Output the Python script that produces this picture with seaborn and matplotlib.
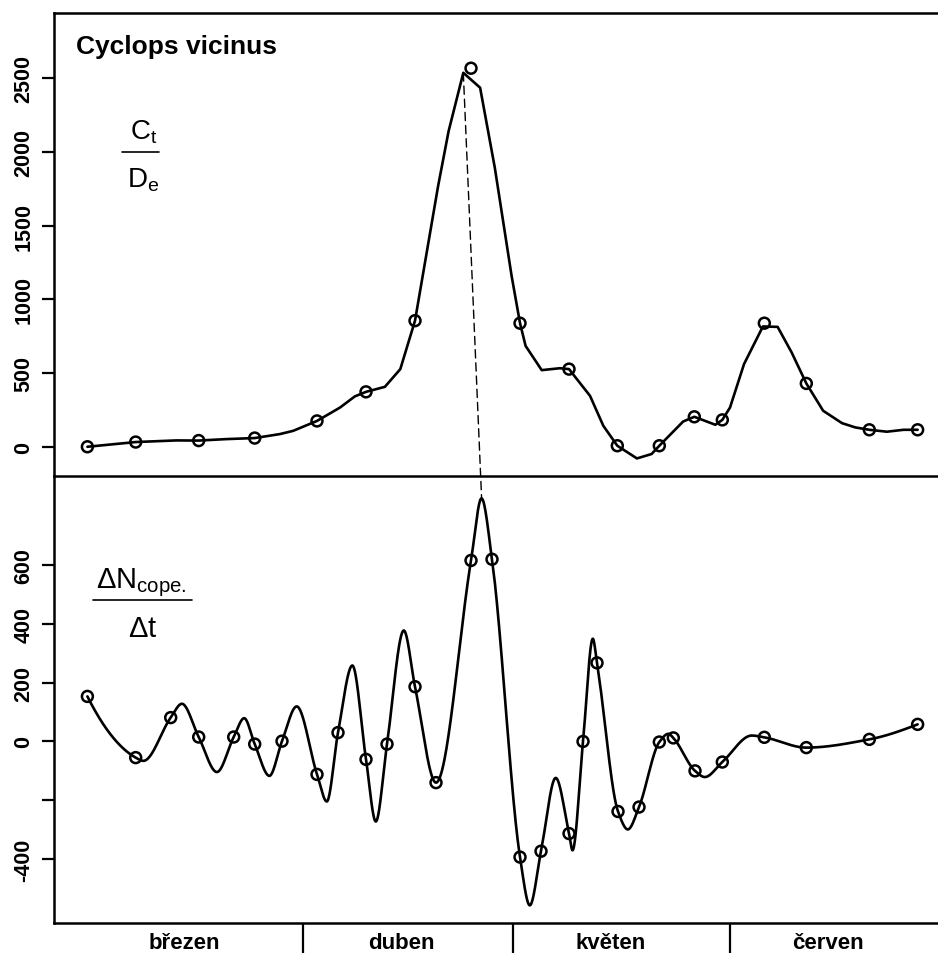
import numpy as np
import pandas as pd
import matplotlib
matplotlib.use("Agg")
import matplotlib.pyplot as plt
from matplotlib.lines import Line2D
from matplotlib.patches import ConnectionPatch
import seaborn as sns

# Days are counted from 1 March (day 0)
month_names = ["březen", "duben", "květen", "červen"]
month_starts = [31, 61, 92]            # 1 April, 1 May, 1 June
month_label_days = [14, 45, 75, 106]   # the 15th of each month

# Upper panel: sampled C_t / D_e values and the smoothed trace
density_days = [0.2, 7.1, 16.1, 24.1, 33.0, 40.0, 47.0, 55.0, 62.0, 69.0,
                75.9, 81.9, 86.9, 90.9, 96.9, 102.9, 111.9, 118.8]
density_vals = [2, 34, 44, 61, 177, 374, 856, 2566, 839, 528,
                9, 9, 205, 184, 839, 431, 117, 117]

trace_days = [0.2, 7.1, 12.9, 16.1, 20.1, 24.1, 27.7, 29.6, 33.0, 36.3,
              38.4, 40.0, 42.7, 44.9, 47.0, 50.3, 51.8, 53.9, 56.3, 58.4,
              60.8, 62.0, 62.8, 65.1, 67.7, 69.0, 72.0, 73.9, 75.9, 78.7,
              80.8, 81.9, 85.3, 86.9, 89.9, 90.9, 92.0, 94.0, 96.7, 98.8,
              100.8, 102.9, 105.3, 108.0, 109.9, 111.9, 114.4, 116.8, 118.8]
trace_vals = [2, 34, 45, 44, 54, 61, 88, 110, 177, 268,
              343, 374, 408, 528, 856, 1768, 2140, 2535, 2434, 1892,
              1159, 839, 685, 521, 534, 528, 347, 144, 9, -77,
              -47, 9, 173, 205, 151, 184, 268, 562, 817, 814,
              641, 431, 246, 162, 133, 117, 104, 117, 117]

# Lower panel: rate of change of copepodites (circles)
rate_days = [0.2, 7.1, 12.1, 16.1, 21.1, 24.1, 28.0, 33.0, 36.0, 40.0,
             43.0, 47.0, 50.0, 55.0, 58.0, 62.0, 65.0, 69.0, 71.0, 73.0,
             76.0, 79.0, 81.9, 83.9, 87.0, 90.9, 96.9, 102.9, 111.9, 118.8]
rate_vals = [153, -55, 81, 15, 15, -9, 1, -112, 30, -61,
             -9, 186, -140, 615, 619, -393, -373, -313, 0, 267,
             -238, -223, -2, 12, -100, -70, 14, -21, 7, 58]

# Knots of the smooth rate curve (its turning points and the sampled values)
curve_days = [0.2, 7.1, 8.2, 12.1, 13.7, 16.1, 18.7, 21.1, 22.6, 24.1,
              26.2, 28.0, 30.1, 33.0, 34.4, 36.0, 38.05, 40.0, 41.4, 43.0,
              45.4, 47.0, 50.0, 55.0, 56.5, 58.0, 62.0, 63.4, 65.0, 67.1,
              69.0, 69.5, 71.0, 72.4, 73.0, 76.0, 77.4, 79.0, 81.9, 83.2,
              83.9, 87.0, 88.4, 90.9, 95.1, 96.9, 102.9, 111.9, 118.8]
curve_vals = [153, -55, -66, 81, 128, 15, -104, 15, 79, -9,
              -117, 1, 119, -112, -204, 30, 258, -61, -272, -9,
              377, 186, -140, 615, 826, 619, -393, -557, -373, -124,
              -313, -370, 0, 349, 267, -238, -299, -223, -2, 26,
              12, -100, -121, -70, 20, 14, -21, 7, 58]

top_ticks = [0, 500, 1000, 1500, 2000, 2500]
bottom_ticks = [-400, -200, 0, 200, 400, 600]
bottom_tick_labels = ["-400", "", "0", "200", "400", "600"]


def pchip(x, y, xs):
    """Shape-preserving piecewise cubic Hermite curve through (x, y)."""
    x = np.asarray(x, float)
    y = np.asarray(y, float)
    h = np.diff(x)
    d = np.diff(y) / h
    n = len(x)
    m = np.zeros(n)
    for k in range(1, n - 1):
        if d[k - 1] * d[k] > 0:
            w1 = 2 * h[k] + h[k - 1]
            w2 = h[k] + 2 * h[k - 1]
            m[k] = (w1 + w2) / (w1 / d[k - 1] + w2 / d[k])

    def end(h0, h1, d0, d1):
        s = ((2 * h0 + h1) * d0 - h0 * d1) / (h0 + h1)
        if np.sign(s) != np.sign(d0):
            return 0.0
        if np.sign(d0) != np.sign(d1) and abs(s) > abs(3 * d0):
            return 3 * d0
        return s

    m[0] = end(h[0], h[1], d[0], d[1])
    m[-1] = end(h[-1], h[-2], d[-1], d[-2])
    i = np.clip(np.searchsorted(x, xs) - 1, 0, n - 2)
    t = (xs - x[i]) / h[i]
    h00 = 2 * t**3 - 3 * t**2 + 1
    h10 = t**3 - 2 * t**2 + t
    h01 = -2 * t**3 + 3 * t**2
    h11 = t**3 - t**2
    return h00 * y[i] + h10 * h[i] * m[i] + h01 * y[i + 1] + h11 * h[i] * m[i + 1]


sns.set_theme(style="ticks", rc={
    "axes.edgecolor": "black",
    "xtick.color": "black",
    "ytick.color": "black",
    "text.color": "black",
    "axes.linewidth": 1.8,
})
plt.rcParams["font.family"] = ["Liberation Sans", "DejaVu Sans"]
plt.rcParams["mathtext.fontset"] = "custom"
plt.rcParams["mathtext.rm"] = "Liberation Sans"
plt.rcParams["mathtext.it"] = "Liberation Sans:italic"
plt.rcParams["mathtext.bf"] = "Liberation Sans:bold"

W, H = 938, 954
fig = plt.figure(figsize=(W / 100, H / 100), dpi=100)


def rect(left, top, right, bottom):
    return [left / W, 1 - bottom / H, (right - left) / W, (bottom - top) / H]


ax1 = fig.add_axes(rect(54, 14, 945, 477))
ax2 = fig.add_axes(rect(54, 477, 945, 924))
ax2.patch.set_visible(False)
ax1.set_zorder(2)
ax1.patch.set_visible(False)

xlim = (-4.571, 122.71)
lw = 1.9

density = pd.DataFrame({"day": density_days, "value": density_vals})
trace = pd.DataFrame({"day": trace_days, "value": trace_vals})
rate = pd.DataFrame({"day": rate_days, "value": rate_vals})
fine_days = np.linspace(curve_days[0], curve_days[-1], 3000)
curve = pd.DataFrame({"day": fine_days,
                      "value": pchip(curve_days, curve_vals, fine_days)})

# ---- upper panel
sns.lineplot(data=trace, x="day", y="value", ax=ax1, color="black",
             linewidth=lw, estimator=None, sort=False)
sns.scatterplot(data=density, x="day", y="value", ax=ax1, marker="o", s=62,
                facecolor="none", edgecolor="black", linewidth=1.8, zorder=3)
ax1.set_xlim(*xlim)
ax1.set_ylim(-196, 2940)
ax1.set_xticks([])
ax1.set_yticks(top_ticks, [str(t) for t in top_ticks], rotation=90,
               va="center", fontweight="bold", fontsize=15.5)
ax1.tick_params(axis="y", length=8.6, width=1.6, pad=5.4)
ax1.spines["right"].set_visible(False)
ax1.set_xlabel("")
ax1.set_ylabel("")

ax1.text(0.0247, 0.9136, "Cyclops vicinus", transform=ax1.transAxes,
         fontsize=19, fontweight="bold", ha="left", va="baseline")
ax1.text(0.1005, 0.7279, r"$\mathregular{C_t}$", transform=ax1.transAxes,
         fontsize=20, ha="center", va="baseline")
ax1.text(0.0999, 0.6242, r"$\mathregular{D_e}$", transform=ax1.transAxes,
         fontsize=20, ha="center", va="baseline")
ax1.add_line(Line2D([0.0763, 0.1179], [0.6991, 0.6991], transform=ax1.transAxes,
                    color="black", linewidth=1.2))

# ---- lower panel
sns.lineplot(data=curve, x="day", y="value", ax=ax2, color="black",
             linewidth=lw, estimator=None, sort=False)
sns.scatterplot(data=rate, x="day", y="value", ax=ax2, marker="o", s=62,
                facecolor="none", edgecolor="black", linewidth=1.8, zorder=3)
ax2.set_xlim(*xlim)
ax2.set_ylim(-617, 902)
ax2.set_yticks(bottom_ticks, bottom_tick_labels, rotation=90,
               va="center", fontweight="bold", fontsize=15.5)
ax2.tick_params(axis="y", length=8.6, width=1.6, pad=5.4)
ax2.set_xticks(month_starts, [""] * len(month_starts))
ax2.set_xticks(month_label_days, month_names, minor=True,
               fontweight="bold", fontsize=16)
ax2.tick_params(axis="x", which="major", length=21.6, width=1.6)
ax2.tick_params(axis="x", which="minor", length=0, pad=6.6)
ax2.spines["right"].set_visible(False)
ax2.spines["top"].set_visible(False)
ax2.set_xlabel("")
ax2.set_ylabel("")

ax2.text(0.0982, 0.751, r"$\mathregular{\Delta N_{cope.}}$", transform=ax2.transAxes,
         fontsize=21, ha="center", va="baseline")
ax2.text(0.0993, 0.6427, r"$\mathregular{\Delta t}$", transform=ax2.transAxes,
         fontsize=21, ha="center", va="baseline")
ax2.add_line(Line2D([0.0438, 0.1549], [0.7233, 0.7233], transform=ax2.transAxes,
                    color="black", linewidth=1.2))

# dashed link from the density maximum to the rate maximum
i_top = int(np.argmax(trace["value"]))
i_bot = int(np.argmax(curve["value"]))
link = ConnectionPatch(xyA=(trace["day"][i_top], trace["value"][i_top]), coordsA=ax1.transData,
                       xyB=(curve["day"][i_bot], curve["value"][i_bot]), coordsB=ax2.transData,
                       color="black", linewidth=1.0, linestyle=(0, (6, 3.5)), zorder=5)
fig.add_artist(link)

fig.savefig("out.png", dpi=100)
